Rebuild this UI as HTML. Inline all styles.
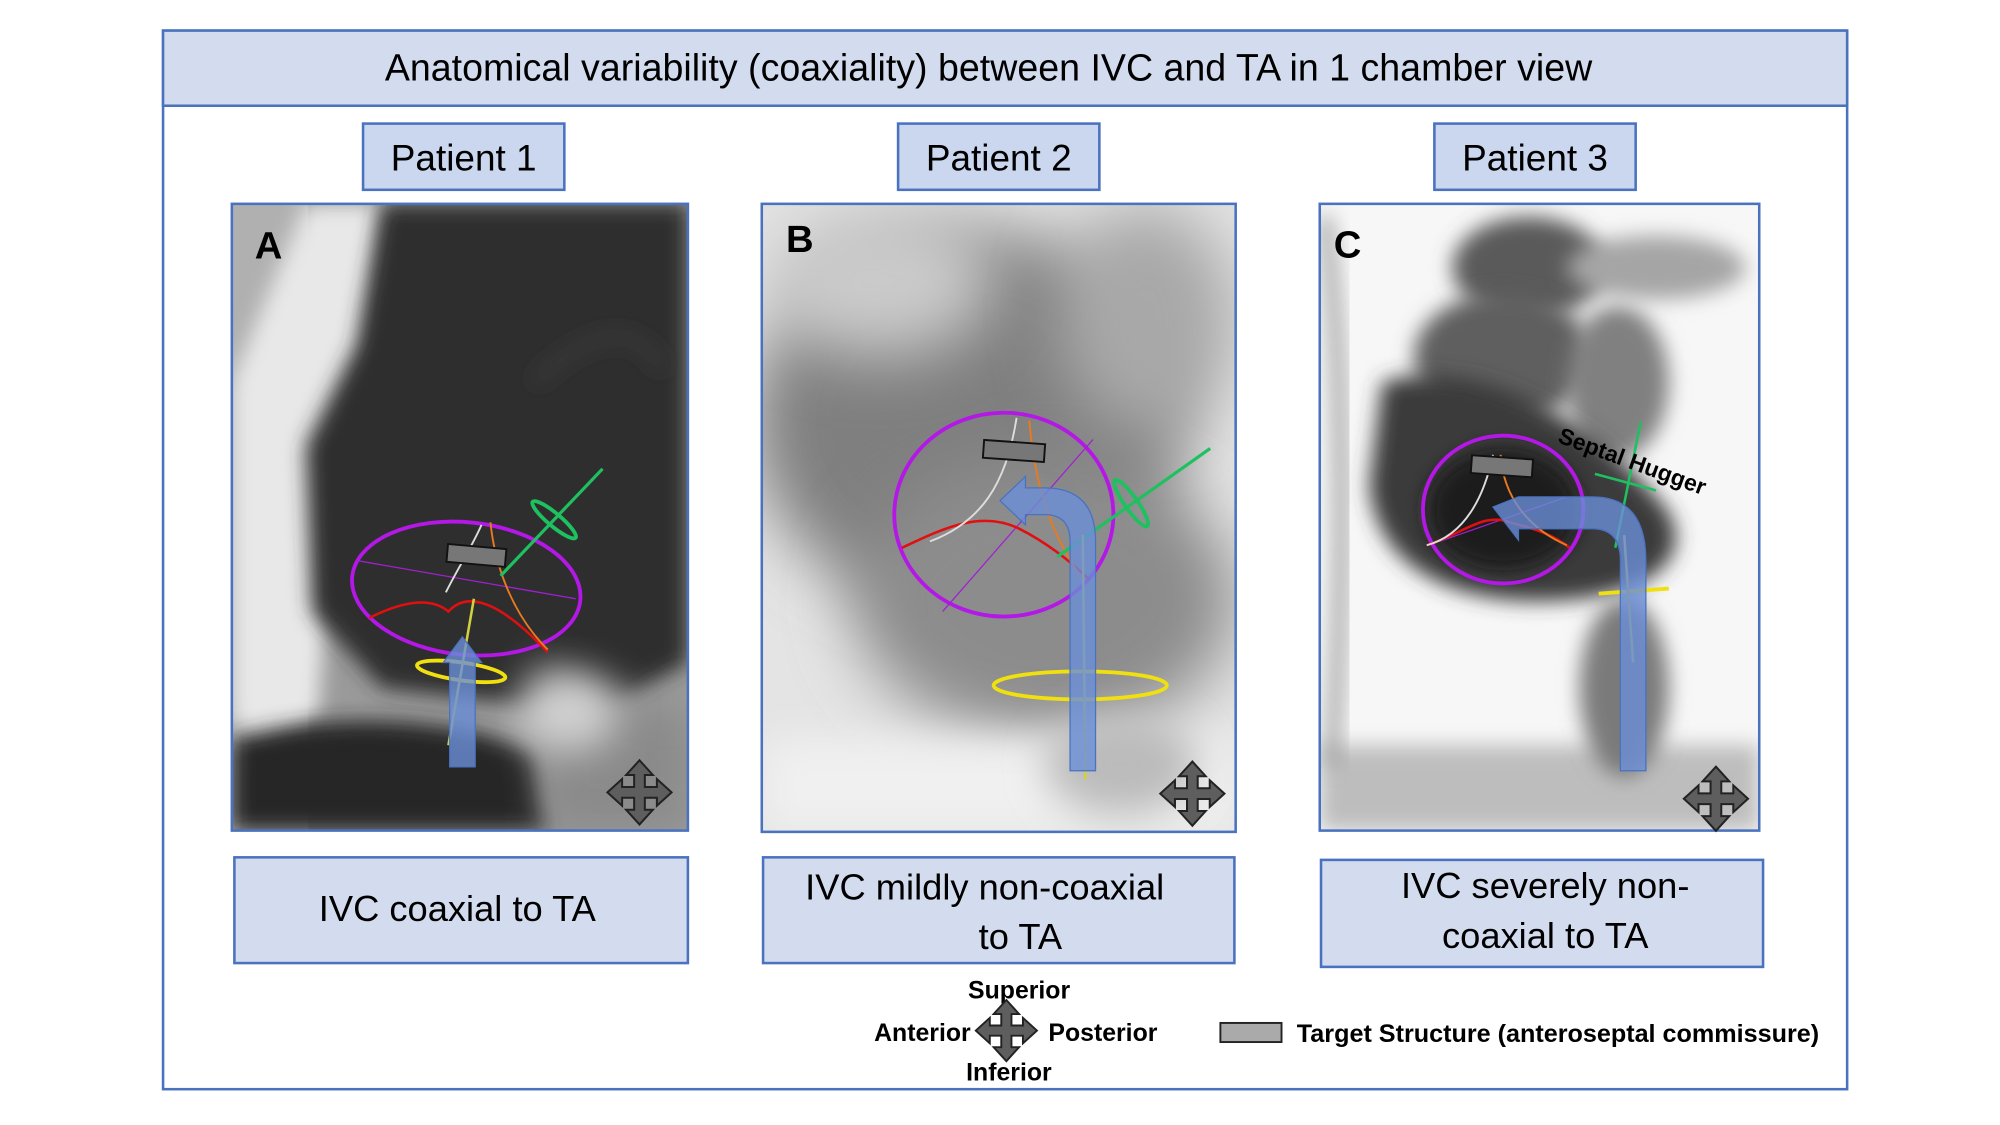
<!DOCTYPE html>
<html><head><meta charset="utf-8"><style>
html,body{margin:0;padding:0;background:#fff;width:2000px;height:1125px;overflow:hidden}
svg{display:block}
text{font-family:"Liberation Sans",sans-serif}
</style></head><body>
<svg width="2000" height="1125" viewBox="0 0 1570 883.1" xmlns="http://www.w3.org/2000/svg">
<defs>
<filter id="b8" x="-50%" y="-50%" width="200%" height="200%"><feGaussianBlur stdDeviation="8"/></filter>
<filter id="b15" x="-50%" y="-50%" width="200%" height="200%"><feGaussianBlur stdDeviation="15"/></filter>
<filter id="b25" x="-50%" y="-50%" width="200%" height="200%"><feGaussianBlur stdDeviation="25"/></filter>
<clipPath id="cA"><rect x="182" y="160" width="358" height="492"/></clipPath>
<clipPath id="cB"><rect x="598" y="160" width="372" height="493"/></clipPath>
<clipPath id="cC"><rect x="1036" y="160" width="345" height="492"/></clipPath>
<path id="cross" d="M0,-24 L-10,-13 L-4,-13 L-4,-4 L-13,-4 L-13,-10 L-24,0 L-13,10 L-13,4 L-4,4 L-4,13 L-10,13 L0,24 L10,13 L4,13 L4,4 L13,4 L13,10 L24,0 L13,-10 L13,-4 L4,-4 L4,-13 L10,-13 Z" fill="#5e5e5e" stroke="#222" stroke-width="1.5"/>
</defs>

<rect x="128" y="24" width="1322" height="831" fill="#fff" stroke="#4a72bf" stroke-width="2"/>
<rect x="128" y="24" width="1322" height="59" fill="#d3dcee" stroke="#4a72bf" stroke-width="2"/>
<text x="776" y="63" font-size="29.5" text-anchor="middle" fill="#000">Anatomical variability (coaxiality) between IVC and TA in 1 chamber view</text>

<g fill="#cbd7ee" stroke="#4a72bf" stroke-width="2">
<rect x="285" y="97" width="158" height="52"/>
<rect x="705" y="97" width="158" height="52"/>
<rect x="1126" y="97" width="158" height="52"/>
</g>
<g font-size="29" text-anchor="middle" fill="#000">
<text x="364" y="134">Patient 1</text>
<text x="784" y="134">Patient 2</text>
<text x="1205" y="134">Patient 3</text>
</g>

<!-- Panel A -->
<g clip-path="url(#cA)">
<rect x="182" y="160" width="358" height="492" fill="#9a9a9a"/>
<rect x="182" y="160" width="60" height="492" fill="#b0b0b0"/>
<path d="M240,160 L300,160 L290,300 L260,420 L250,560 L200,600 L182,560 L182,300 Z" fill="#e8e8e8" filter="url(#b8)"/>
<path d="M300,160 L540,160 L540,520 L470,560 L300,540 L245,480 L240,350 L280,270 Z" fill="#2e2e2e" filter="url(#b8)"/>
<path d="M182,580 C250,560 350,560 420,590 L430,652 L182,652 Z" fill="#262626" filter="url(#b8)"/>
<path d="M420,520 C470,540 520,560 540,560 L540,652 L430,652 Z" fill="#8a8a8a" filter="url(#b15)"/>
<ellipse cx="445" cy="560" rx="40" ry="30" fill="#d0d0d0" filter="url(#b15)"/>
<path d="M420,300 C460,260 500,250 520,290" stroke="#555" stroke-width="3" fill="none" filter="url(#b8)"/>
</g>
<rect x="182" y="160" width="358" height="492" fill="none" stroke="#4a72bf" stroke-width="2"/>
<text x="200" y="203" font-size="30" font-weight="bold" fill="#000">A</text>
<g>
<ellipse cx="366" cy="462" rx="90" ry="52" transform="rotate(6 366 462)" fill="none" stroke="#b418e6" stroke-width="3"/>
<line x1="280" y1="440" x2="452" y2="470" stroke="#a020d0" stroke-width="1"/>
<path d="M290,485 C320,470 340,470 352,480 C370,460 400,480 430,512" fill="none" stroke="#e01010" stroke-width="2"/>
<path d="M350,465 C360,445 370,430 378,412" fill="none" stroke="#ddd" stroke-width="1.5"/>
<path d="M385,410 C388,440 400,480 430,510" fill="none" stroke="#e87a20" stroke-width="1.5"/>
<line x1="393" y1="452" x2="473" y2="368" stroke="#1ec060" stroke-width="2.5"/>
<ellipse cx="435" cy="408" rx="22" ry="5" transform="rotate(40 435 408)" fill="none" stroke="#1ec060" stroke-width="3"/>
<ellipse cx="362" cy="527" rx="35" ry="7" transform="rotate(8 362 527)" fill="none" stroke="#f0e010" stroke-width="3"/>
<line x1="372" y1="470" x2="352" y2="585" stroke="#d0d040" stroke-width="2"/>
<rect x="351" y="429" width="46" height="14" transform="rotate(5 374 436)" fill="#777" stroke="#111" stroke-width="1.5"/>
<path d="M353,602 L353,520 L348,520 L363,500 L378,520 L373,520 L373,602 Z" fill="#6a8fd8" fill-opacity="0.8" stroke="#4a72bf" stroke-width="1"/>
<use href="#cross" transform="translate(502,622) scale(1.05)"/>
</g>

<!-- Panel B -->
<g clip-path="url(#cB)">
<rect x="598" y="160" width="372" height="493" fill="#e4e4e4"/>
<ellipse cx="760" cy="330" rx="170" ry="150" fill="#7f7f7f" filter="url(#b25)"/>
<ellipse cx="820" cy="470" rx="150" ry="110" fill="#8c8c8c" filter="url(#b25)"/>
<ellipse cx="690" cy="220" rx="90" ry="60" fill="#cacaca" filter="url(#b25)"/>
<ellipse cx="900" cy="250" rx="70" ry="90" fill="#a8a8a8" filter="url(#b25)"/>
<rect x="598" y="580" width="372" height="73" fill="#f0f0f0" filter="url(#b15)"/>
<ellipse cx="880" cy="600" rx="60" ry="40" fill="#bbb" filter="url(#b15)"/>
</g>
<rect x="598" y="160" width="372" height="493" fill="none" stroke="#4a72bf" stroke-width="2"/>
<text x="617" y="198" font-size="30" font-weight="bold" fill="#000">B</text>
<g>
<ellipse cx="788" cy="404" rx="86" ry="80" fill="none" stroke="#b418e6" stroke-width="3"/>
<line x1="740" y1="480" x2="858" y2="345" stroke="#a020d0" stroke-width="1"/>
<path d="M708,430 C740,415 770,400 800,415 C820,425 840,440 855,455" fill="none" stroke="#e01010" stroke-width="2"/>
<path d="M730,425 C770,410 790,380 798,328" fill="none" stroke="#ddd" stroke-width="1.5"/>
<path d="M808,330 C812,380 825,420 850,455" fill="none" stroke="#e87a20" stroke-width="1.5"/>
<line x1="830" y1="437" x2="950" y2="352" stroke="#1ec060" stroke-width="2.5"/>
<ellipse cx="888" cy="395" rx="22" ry="5" transform="rotate(55 888 395)" fill="none" stroke="#1ec060" stroke-width="3"/>
<ellipse cx="848" cy="538" rx="68" ry="11" fill="none" stroke="#f0e010" stroke-width="3"/>
<line x1="850" y1="420" x2="852" y2="612" stroke="#d0d040" stroke-width="2"/>
<rect x="772" y="347" width="48" height="14" transform="rotate(4 796 354)" fill="#777" stroke="#111" stroke-width="1.5"/>
<path d="M840,605 L840,425 Q840,404 820,404 L805,404 L805,412 L785,393 L805,374 L805,383 L820,383 Q860,383 860,425 L860,605 Z" fill="#6a8fd8" fill-opacity="0.8" stroke="#4a72bf" stroke-width="1"/>
<use href="#cross" transform="translate(936,623) scale(1.05)"/>
</g>

<!-- Panel C -->
<g clip-path="url(#cC)">
<rect x="1036" y="160" width="345" height="492" fill="#f7f7f7"/>
<rect x="1036" y="585" width="345" height="67" fill="#bdbdbd" filter="url(#b8)"/>
<path d="M1040,170 C1050,250 1060,400 1045,600" stroke="#999" stroke-width="10" fill="none" filter="url(#b8)"/>
<ellipse cx="1200" cy="210" rx="60" ry="40" fill="#5a5a5a" filter="url(#b8)"/>
<ellipse cx="1180" cy="280" rx="70" ry="50" fill="#5f5f5f" filter="url(#b8)"/>
<ellipse cx="1270" cy="300" rx="40" ry="60" fill="#808080" filter="url(#b8)"/>
<path d="M1085,300 C1150,280 1240,320 1300,390 C1330,420 1320,460 1240,470 C1150,480 1080,450 1075,380 Z" fill="#3a3a3a" filter="url(#b8)"/>
<ellipse cx="1180" cy="400" rx="60" ry="48" fill="#1f1f1f" filter="url(#b8)"/>
<ellipse cx="1275" cy="540" rx="35" ry="70" fill="#7a7a7a" filter="url(#b8)"/>
<ellipse cx="1300" cy="210" rx="70" ry="25" fill="#a5a5a5" filter="url(#b8)"/>
</g>
<rect x="1036" y="160" width="345" height="492" fill="none" stroke="#4a72bf" stroke-width="2"/>
<text x="1047" y="202" font-size="30" font-weight="bold" fill="#000">C</text>
<g>
<ellipse cx="1180" cy="400" rx="63" ry="58" fill="none" stroke="#b418e6" stroke-width="3"/>
<line x1="1130" y1="425" x2="1230" y2="390" stroke="#a020d0" stroke-width="1"/>
<path d="M1120,428 C1150,418 1165,402 1185,410 C1205,415 1220,420 1232,430" fill="none" stroke="#e01010" stroke-width="2"/>
<path d="M1120,428 C1150,420 1165,390 1172,357" fill="none" stroke="#ddd" stroke-width="1.5"/>
<path d="M1178,357 C1180,390 1200,415 1230,428" fill="none" stroke="#e87a20" stroke-width="1.5"/>
<line x1="1288" y1="331" x2="1268" y2="430" stroke="#1ec060" stroke-width="2"/>
<line x1="1252" y1="372" x2="1300" y2="385" stroke="#1ec060" stroke-width="2"/>
<line x1="1255" y1="466" x2="1310" y2="462" stroke="#f0e010" stroke-width="3"/>
<line x1="1275" y1="420" x2="1282" y2="520" stroke="#c0c040" stroke-width="2"/>
<rect x="1155" y="359" width="48" height="14" transform="rotate(4 1179 366)" fill="#777" stroke="#111" stroke-width="1.5"/>
<path d="M1272,605 L1272,440 Q1272,415 1250,415 L1192,415 L1192,424 L1172,398 L1192,390 L1250,390 Q1292,390 1292,440 L1292,605 Z" fill="#6a8fd8" fill-opacity="0.8" stroke="#4a72bf" stroke-width="1"/>
<text x="1222" y="347" font-size="18" font-weight="bold" fill="#000" transform="rotate(20 1222 347)">Septal Hugger</text>
<use href="#cross" transform="translate(1347,627) scale(1.05)"/>
</g>

<g fill="#d3dcee" stroke="#4a72bf" stroke-width="2">
<rect x="184" y="673" width="356" height="83"/>
<rect x="599" y="673" width="370" height="83"/>
<rect x="1037" y="675" width="347" height="84"/>
</g>
<g font-size="28.5" text-anchor="middle" fill="#000">
<text x="359" y="723">IVC coaxial to TA</text>
<text x="773" y="706">IVC mildly non-coaxial</text>
<text x="801" y="745">to TA</text>
<text x="1213" y="705">IVC severely non-</text>
<text x="1213" y="744">coaxial to TA</text>
</g>

<g font-size="19.5" font-weight="bold" fill="#000">
<text x="800" y="784" text-anchor="middle">Superior</text>
<text x="762" y="817" text-anchor="end">Anterior</text>
<text x="823" y="817">Posterior</text>
<text x="792" y="848" text-anchor="middle">Inferior</text>
<text x="1018" y="818" textLength="410" lengthAdjust="spacingAndGlyphs">Target Structure (anteroseptal commissure)</text>
</g>
<use href="#cross" transform="translate(790,809) scale(1.0)"/>
<rect x="958" y="803" width="48" height="15" fill="#aaa" stroke="#222" stroke-width="1.5"/>
</svg>
</body></html>
